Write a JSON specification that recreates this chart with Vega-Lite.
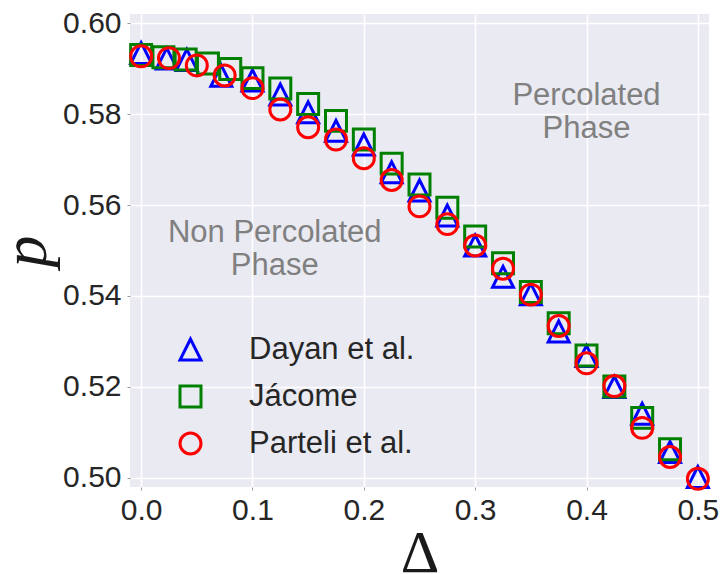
{
  "$schema": "https://vega.github.io/schema/vega-lite/v6.json",
  "autosize": "none",
  "width": 579,
  "height": 473,
  "padding": {"left": 130, "top": 14, "right": 13, "bottom": 87},
  "background": "white",
  "config": {
    "view": {"fill": "#EAEAF2", "stroke": null},
    "axis": {
      "gridColor": "#ffffff",
      "gridWidth": 1.5,
      "domain": false,
      "tickColor": "#9a9a9a",
      "tickSize": 3,
      "tickWidth": 1,
      "labelFont": "Liberation Sans",
      "labelFontSize": 30,
      "labelColor": "#262626",
      "titleColor": "#1a1a1a",
      "titleFontWeight": "normal"
    }
  },
  "datasets": {
    "pts": [
      {"series": "Dayan et al.", "delta": 0.0, "p": 0.5934},
      {"series": "Dayan et al.", "delta": 0.023, "p": 0.5922},
      {"series": "Dayan et al.", "delta": 0.041, "p": 0.5919},
      {"series": "Dayan et al.", "delta": 0.072, "p": 0.5884},
      {"series": "Dayan et al.", "delta": 0.1, "p": 0.5874},
      {"series": "Dayan et al.", "delta": 0.125, "p": 0.5843},
      {"series": "Dayan et al.", "delta": 0.15, "p": 0.5804},
      {"series": "Dayan et al.", "delta": 0.175, "p": 0.5763},
      {"series": "Dayan et al.", "delta": 0.2, "p": 0.5733},
      {"series": "Dayan et al.", "delta": 0.225, "p": 0.5672},
      {"series": "Dayan et al.", "delta": 0.25, "p": 0.5632},
      {"series": "Dayan et al.", "delta": 0.275, "p": 0.5577},
      {"series": "Dayan et al.", "delta": 0.3, "p": 0.5511},
      {"series": "Dayan et al.", "delta": 0.325, "p": 0.5442},
      {"series": "Dayan et al.", "delta": 0.35, "p": 0.5404},
      {"series": "Dayan et al.", "delta": 0.375, "p": 0.5322},
      {"series": "Dayan et al.", "delta": 0.4, "p": 0.5268},
      {"series": "Dayan et al.", "delta": 0.425, "p": 0.52},
      {"series": "Dayan et al.", "delta": 0.45, "p": 0.5141},
      {"series": "Dayan et al.", "delta": 0.475, "p": 0.5057},
      {"series": "Dayan et al.", "delta": 0.5, "p": 0.5002},
      {"series": "Jácome", "delta": 0.0, "p": 0.593},
      {"series": "Jácome", "delta": 0.02, "p": 0.5925},
      {"series": "Jácome", "delta": 0.04, "p": 0.592},
      {"series": "Jácome", "delta": 0.06, "p": 0.5911},
      {"series": "Jácome", "delta": 0.08, "p": 0.5899},
      {"series": "Jácome", "delta": 0.1, "p": 0.5879},
      {"series": "Jácome", "delta": 0.125, "p": 0.5856},
      {"series": "Jácome", "delta": 0.15, "p": 0.5822},
      {"series": "Jácome", "delta": 0.175, "p": 0.5785},
      {"series": "Jácome", "delta": 0.2, "p": 0.5744},
      {"series": "Jácome", "delta": 0.225, "p": 0.5691},
      {"series": "Jácome", "delta": 0.25, "p": 0.5645},
      {"series": "Jácome", "delta": 0.275, "p": 0.5594},
      {"series": "Jácome", "delta": 0.3, "p": 0.5531},
      {"series": "Jácome", "delta": 0.325, "p": 0.5472},
      {"series": "Jácome", "delta": 0.35, "p": 0.5409},
      {"series": "Jácome", "delta": 0.375, "p": 0.534},
      {"series": "Jácome", "delta": 0.4, "p": 0.5269},
      {"series": "Jácome", "delta": 0.425, "p": 0.5201},
      {"series": "Jácome", "delta": 0.45, "p": 0.5132},
      {"series": "Jácome", "delta": 0.475, "p": 0.5063},
      {"series": "Parteli et al.", "delta": 0.0, "p": 0.5927},
      {"series": "Parteli et al.", "delta": 0.025, "p": 0.5923},
      {"series": "Parteli et al.", "delta": 0.05, "p": 0.5907},
      {"series": "Parteli et al.", "delta": 0.075, "p": 0.5885},
      {"series": "Parteli et al.", "delta": 0.1, "p": 0.5857},
      {"series": "Parteli et al.", "delta": 0.125, "p": 0.581},
      {"series": "Parteli et al.", "delta": 0.15, "p": 0.5771},
      {"series": "Parteli et al.", "delta": 0.175, "p": 0.5744},
      {"series": "Parteli et al.", "delta": 0.2, "p": 0.5703},
      {"series": "Parteli et al.", "delta": 0.225, "p": 0.5655},
      {"series": "Parteli et al.", "delta": 0.25, "p": 0.5597},
      {"series": "Parteli et al.", "delta": 0.275, "p": 0.5558},
      {"series": "Parteli et al.", "delta": 0.3, "p": 0.5511},
      {"series": "Parteli et al.", "delta": 0.325, "p": 0.546},
      {"series": "Parteli et al.", "delta": 0.35, "p": 0.5403},
      {"series": "Parteli et al.", "delta": 0.375, "p": 0.5334},
      {"series": "Parteli et al.", "delta": 0.4, "p": 0.5252},
      {"series": "Parteli et al.", "delta": 0.425, "p": 0.5202},
      {"series": "Parteli et al.", "delta": 0.45, "p": 0.511},
      {"series": "Parteli et al.", "delta": 0.475, "p": 0.5046},
      {"series": "Parteli et al.", "delta": 0.5, "p": 0.4998}
    ],
    "notes": [
      {"label": ["Non Percolated", "Phase"], "delta": 0.12, "p": 0.5518},
      {"label": ["Percolated", "Phase"], "delta": 0.4, "p": 0.5819}
    ]
  },
  "layer": [
    {
      "data": {"name": "notes"},
      "mark": {"type": "text", "font": "Liberation Sans", "fontSize": 31, "color": "#808080", "align": "center", "baseline": "alphabetic", "lineHeight": 33},
      "encoding": {
        "x": {"field": "delta", "type": "quantitative", "scale": {"domain": [-0.01, 0.51], "nice": false, "zero": false}},
        "y": {"field": "p", "type": "quantitative", "scale": {"domain": [0.498, 0.602], "nice": false, "zero": false}},
        "text": {"field": "label"}
      }
    },
    {
      "data": {"name": "pts"},
      "mark": {"type": "point", "filled": false, "strokeWidth": 3, "size": 440, "opacity": 1},
      "encoding": {
        "x": {
          "field": "delta", "type": "quantitative",
          "scale": {"domain": [-0.01, 0.51], "nice": false, "zero": false},
          "axis": {"values": [0, 0.1, 0.2, 0.3, 0.4, 0.5], "format": ".1f", "title": "Δ", "titleFont": "Liberation Serif", "titleFontSize": 60, "titleBaseline": "alphabetic", "titleY": 84, "labelPadding": 5}
        },
        "y": {
          "field": "p", "type": "quantitative",
          "scale": {"domain": [0.498, 0.602], "nice": false, "zero": false},
          "axis": {"values": [0.5, 0.52, 0.54, 0.56, 0.58, 0.6], "format": ".2f", "title": "p", "titleFont": "Liberation Serif", "titleFontStyle": "italic", "titleFontSize": 64, "titleBaseline": "alphabetic", "titleX": -85, "titleY": 237, "labelPadding": 6}
        },
        "color": {
          "field": "series", "type": "nominal",
          "scale": {"domain": ["Dayan et al.", "Jácome", "Parteli et al."], "range": ["#0000ff", "#008000", "#ff0000"]},
          "legend": {"title": null, "orient": "none", "legendX": 45, "legendY": 320, "padding": 0, "labelFont": "Liberation Sans", "labelFontSize": 31, "labelColor": "#262626", "labelLimit": 400, "symbolSize": 440, "symbolStrokeWidth": 3, "rowPadding": 14, "labelOffset": 43, "symbolFillColor": "transparent"}
        },
        "shape": {
          "field": "series", "type": "nominal",
          "scale": {"domain": ["Dayan et al.", "Jácome", "Parteli et al."], "range": ["M0,-1L-1,1L1,1Z", "square", "circle"]}
        }
      }
    }
  ]
}
